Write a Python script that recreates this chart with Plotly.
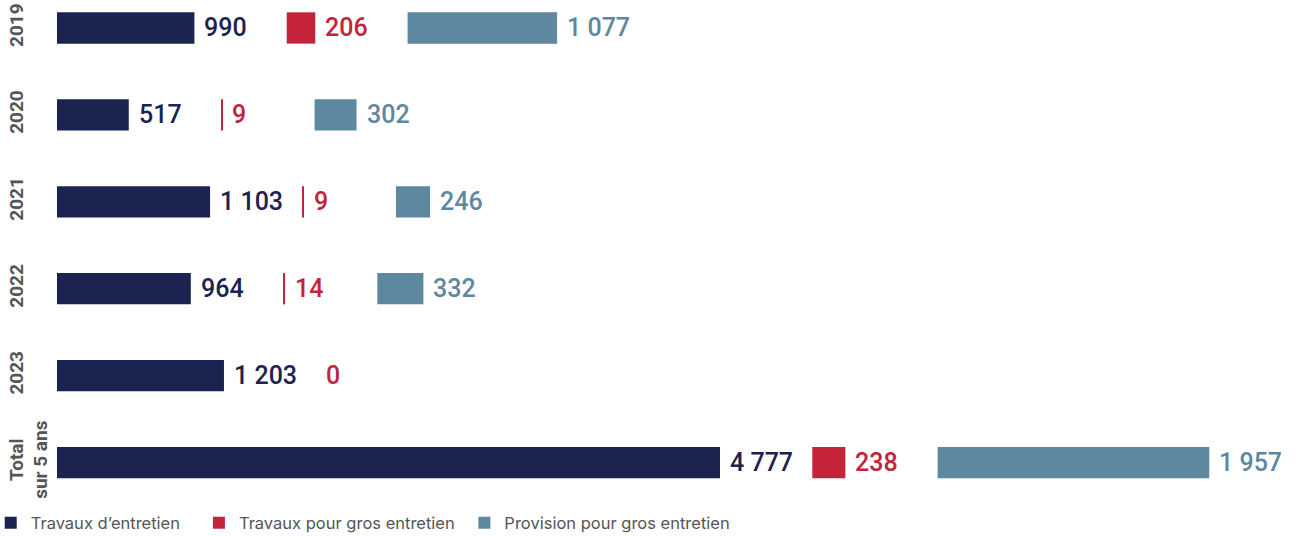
import plotly.graph_objects as go

categories = ["2019", "2020", "2021", "2022", "2023", "Total<br>sur 5 ans"]
travaux_entretien = [990, 517, 1103, 964, 1203, 4777]
travaux_gros = [206, 9, 9, 14, 0, 238]
provision_gros = [1077, 302, 246, 332, None, 1957]

series_names = ["Travaux d’entretien", "Travaux pour gros entretien", "Provision pour gros entretien"]
legend_pad = ["\u00a0\u00a0\u00a0", "\u00a0", ""]  # extra spacing between legend entries
colors = ["#1b2350", "#c3243a", "#5e87a0"]

GAP = 665  # visual spacer between segments (axis units)

def fmt(v):
    return f"{v:,}".replace(",", " ")

ypos = list(range(len(categories)))
# single-line labels get an empty second line so all labels share the same alignment
tick_text = [c if "<br>" in c else c + "<br>\u00a0" for c in categories]

base_red = [a + GAP for a in travaux_entretien]
base_blue = [b + r + GAP for b, r in zip(base_red, travaux_gros)]

fig = go.Figure()
series = [
    (travaux_entretien, [0] * len(categories)),
    (travaux_gros, base_red),
    (provision_gros, base_blue),
]
annotations = []
for (vals, bases), name, pad, col in zip(series, series_names, legend_pad, colors):
    fig.add_trace(go.Bar(
        y=ypos, x=vals, base=bases, orientation="h", name=name + pad,
        marker=dict(color=col, line=dict(width=0)), width=0.36,
        hoverinfo="skip",
    ))
    for y, v, b in zip(ypos, vals, bases):
        if v is None:
            continue
        annotations.append(dict(
            x=b + v, y=y, xref="x", yref="y", text=fmt(v), showarrow=False,
            xanchor="left", yanchor="middle", xshift=8,
            font=dict(family="Roboto", size=25, color=col, weight=500),
        ))

fig.update_layout(
    width=1296, height=536,
    margin=dict(l=57, r=0, t=0, b=30, autoexpand=False),
    paper_bgcolor="white", plot_bgcolor="white",
    barmode="overlay",
    showlegend=True,
    legend=dict(
        orientation="h", x=-0.0535, xanchor="left", y=-0.0336, yanchor="middle",
        font=dict(family="Inter", size=16.5, color="#555555"),
        traceorder="normal", itemwidth=30,
    ),
    annotations=annotations,
    xaxis=dict(range=[0, 8927], visible=False, fixedrange=True),
    yaxis=dict(
        range=[5.5, -0.322], tickmode="array", tickvals=ypos, ticktext=tick_text,
        tickangle=-90, showgrid=False, zeroline=False, showline=False, ticks="",
        tickfont=dict(family="Roboto", size=19, color="#555555", weight=700),
        ticklabelstandoff=5, automargin=False, ticklabeloverflow="allow",
        fixedrange=True,
    ),
)

fig.write_html(
    "out.html",
    config={"displayModeBar": False},
    post_script="document.body.style.margin='0px';",
)
